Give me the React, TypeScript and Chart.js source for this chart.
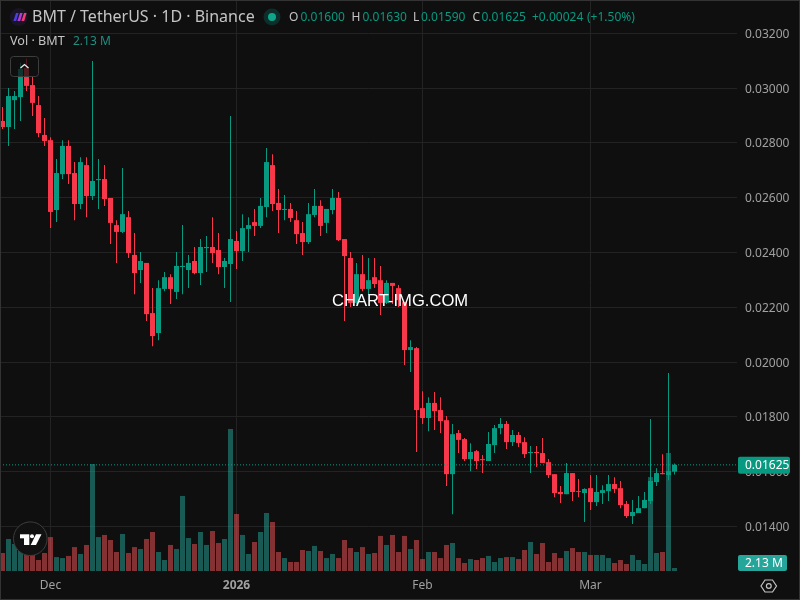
import { useEffect, useRef } from "react";
import { Chart, registerables } from "chart.js";

Chart.register(...registerables);

// prices are kept in units of 0.00001 USDT
const opens = [2880,2858,2956,2967,3073,3011,2938,2829,2810,2555,2686,2789,2690,2577,2719,2606,2664,2668,2599,2500,2475,2529,2391,2336,2362,2179,2106,2267,2310,2256,2347,2336,2369,2325,2416,2420,2409,2347,2358,2442,2405,2486,2511,2497,2566,2719,2581,2555,2559,2518,2471,2438,2537,2570,2508,2555,2599,2449,2380,2216,2321,2267,2310,2299,2216,2289,2270,2219,2044,2051,1832,1796,1851,1825,1788,1591,1741,1719,1646,1675,1646,1639,1697,1759,1774,1708,1734,1708,1668,1672,1668,1635,1591,1526,1518,1595,1529,1522,1540,1489,1522,1529,1555,1540,1482,1438,1449,1467,1493,1562,1595,1588,1600];
const highs = [2931,3000,2989,3092,3108,3042,2971,2891,2821,2741,2810,2810,2730,2748,2748,3099,2741,2719,2599,2518,2708,2551,2471,2402,2362,2270,2299,2329,2321,2402,2500,2391,2420,2449,2460,2529,2471,2380,2898,2478,2540,2529,2559,2599,2781,2759,2632,2610,2581,2551,2511,2581,2632,2591,2559,2632,2621,2449,2402,2362,2391,2380,2380,2351,2299,2289,2281,2219,2080,2055,1894,1872,1891,1872,1803,1774,1752,1723,1704,1679,1661,1745,1770,1796,1785,1752,1745,1726,1694,1694,1723,1646,1591,1548,1632,1595,1573,1540,1588,1588,1551,1588,1580,1566,1493,1497,1511,1526,1792,1613,1664,1960,1630];
const lows = [2851,2789,2851,2880,2989,2898,2821,2789,2489,2511,2668,2650,2518,2559,2529,2592,2559,2570,2431,2362,2471,2380,2248,2289,2150,2058,2080,2259,2212,2230,2248,2270,2321,2281,2329,2362,2321,2270,2219,2340,2369,2402,2460,2489,2529,2551,2471,2518,2511,2431,2391,2431,2529,2460,2471,2540,2442,2150,2201,2212,2259,2245,2270,2172,2212,2212,2201,1989,1964,1672,1774,1748,1752,1741,1548,1445,1668,1639,1602,1610,1595,1639,1668,1737,1683,1694,1690,1650,1595,1617,1632,1577,1507,1486,1518,1493,1507,1416,1460,1475,1482,1493,1522,1467,1431,1409,1449,1467,1482,1548,1591,1569,1590];
const closes = [2858,2971,2971,3070,3008,2946,2836,2807,2548,2690,2789,2686,2577,2730,2606,2661,2668,2595,2508,2475,2540,2398,2325,2369,2175,2095,2270,2310,2267,2351,2351,2362,2325,2420,2420,2398,2347,2369,2449,2405,2489,2500,2497,2570,2730,2577,2555,2559,2526,2467,2438,2540,2570,2497,2559,2599,2445,2387,2216,2321,2267,2299,2285,2216,2289,2278,2226,2044,2055,1825,1796,1851,1821,1785,1591,1737,1716,1646,1672,1639,1642,1701,1759,1774,1708,1734,1705,1664,1672,1668,1632,1588,1522,1518,1595,1526,1526,1537,1489,1526,1533,1555,1537,1478,1438,1453,1467,1497,1566,1595,1591,1602,1625];
// volume in millions of BMT
const volumes = [12.8,22.7,19.2,14.9,11.4,11.4,7.8,12.8,24.1,9.9,9.2,10.7,17,12.1,18.5,76,24.1,25.6,22,13.5,26.3,12.8,17,15.6,22.7,27.7,13.5,7.8,18.5,15.6,53.3,23.4,19.2,27.7,18.5,28.4,19.9,22.7,100.8,40.5,25.6,12.1,20.6,27.7,41.2,34.8,13.5,9.2,6.4,6.4,14.9,14.2,17.8,14.2,9.2,12.1,9.2,22,16.3,13.5,17,12.1,12.8,24.9,18.5,25.6,13.5,24.9,15.6,22,8.5,13.5,13.5,9.2,18.5,19.9,9.2,5.7,8.5,7.8,9.2,10.7,6.4,9.2,9.9,9.9,8.5,14.9,20.6,12.1,19.9,6.4,12.8,9.2,14.2,16.3,13.5,13.5,11.4,11.4,11.4,9.2,5.7,7.8,5,11.4,7.8,5,66.7,12.8,13.5,83.8,2.13];

const monthTicks = [8, 39, 70, 98];
const monthLabels = ["Dec", "2026", "Feb", "Mar"];
const lastPrice = 1625;

const GREEN = "#089981";
const RED = "#f7374a";
const GREEN_VOL = "rgba(38,166,154,0.5)";
const RED_VOL = "rgba(247,83,88,0.5)";
const BG = "#0f0f0f";
const GRID = "#232323";
const UI_FONT = '"Noto Sans", sans-serif';

const isUp = (i: number) => closes[i] >= opens[i];

// everything that is not a data mark: legend row, badges, logos, watermark
const overlay = {
  id: "overlay",
  afterDraw(chart: any) {
    const ctx = chart.ctx;
    const text = (s: string, x: number, y: number, font: string, color: string) => {
      ctx.font = font;
      ctx.fillStyle = color;
      ctx.textAlign = "left";
      ctx.textBaseline = "middle";
      ctx.fillText(s, x, y);
    };
    ctx.save();

    // watermark
    text("CHART-IMG.COM", 332, 301, "16.6px 'Liberation Sans', Arial, sans-serif", "#ffffff");

    // symbol logo
    ctx.fillStyle = "#1b1426";
    ctx.beginPath();
    ctx.arc(18.8, 17, 9, 0, Math.PI * 2);
    ctx.fill();
    ["#4a3fe0", "#b23ad6", "#f23a78"].forEach((c, k) => {
      const x0 = 13.4 + k * 4;
      ctx.fillStyle = c;
      ctx.beginPath();
      ctx.moveTo(x0, 21);
      ctx.lineTo(x0 + 2.6, 13);
      ctx.lineTo(x0 + 5.2, 13);
      ctx.lineTo(x0 + 2.8, 21);
      ctx.closePath();
      ctx.fill();
    });

    text("BMT / TetherUS · 1D · Binance", 32, 17.5, `16px ${UI_FONT}`, "#c4c4c4");

    // market status dot
    ctx.fillStyle = "#0c2f2a";
    ctx.beginPath();
    ctx.arc(272, 17, 8.5, 0, Math.PI * 2);
    ctx.fill();
    ctx.fillStyle = "#0fa58c";
    ctx.beginPath();
    ctx.arc(272, 17, 4, 0, Math.PI * 2);
    ctx.fill();

    const f12 = `12px ${UI_FONT}`;
    text("O", 289, 17.5, f12, "#c4c4c4");
    text("0.01600", 300.5, 17.5, f12, GREEN);
    text("H", 351.5, 17.5, f12, "#c4c4c4");
    text("0.01630", 362.5, 17.5, f12, GREEN);
    text("L", 413, 17.5, f12, "#c4c4c4");
    text("0.01590", 421, 17.5, f12, GREEN);
    text("C", 472.5, 17.5, f12, "#c4c4c4");
    text("0.01625", 481.5, 17.5, f12, GREEN);
    text("+0.00024", 532, 17.5, f12, GREEN);
    text("(+1.50%)", 587, 17.5, f12, GREEN);

    text("Vol · BMT", 10, 41.5, `12.6px ${UI_FONT}`, "#c4c4c4");
    text("2.13 M", 73, 41.5, f12, "#1f8f80");

    // collapse button
    ctx.fillStyle = "rgba(15,15,15,0.72)";
    ctx.strokeStyle = "#3d3d3d";
    ctx.lineWidth = 1;
    ctx.beginPath();
    ctx.roundRect(10.5, 56.5, 28, 20, 3);
    ctx.fill();
    ctx.stroke();
    ctx.strokeStyle = "#e8e8e8";
    ctx.lineWidth = 1.3;
    ctx.beginPath();
    ctx.moveTo(20.5, 68);
    ctx.lineTo(24.5, 64.5);
    ctx.lineTo(28.5, 68);
    ctx.stroke();

    // tradingview badge
    ctx.fillStyle = "#111111";
    ctx.strokeStyle = "#3d3d3d";
    ctx.lineWidth = 1;
    ctx.beginPath();
    ctx.arc(30.3, 538.7, 16.8, 0, Math.PI * 2);
    ctx.fill();
    ctx.stroke();
    ctx.fillStyle = "#ffffff";
    ctx.fillRect(20, 534.3, 9.3, 4);
    ctx.fillRect(24, 538, 5.3, 7);
    ctx.beginPath();
    ctx.arc(32, 536.3, 2, 0, Math.PI * 2);
    ctx.fill();
    ctx.beginPath();
    ctx.moveTo(36, 534.3);
    ctx.lineTo(41.5, 534.3);
    ctx.lineTo(36, 545);
    ctx.lineTo(30.7, 545);
    ctx.closePath();
    ctx.fill();

    // last price and last volume badges
    const py = chart.scales.y.getPixelForValue(lastPrice);
    ctx.fillStyle = GREEN;
    ctx.beginPath();
    ctx.roundRect(738, py - 8, 52, 17, 2);
    ctx.fill();
    text("0.01625", 745, py + 1, f12, "#ffffff");

    const vy = chart.scales.y1.getPixelForValue(0);
    ctx.fillStyle = "#26a69a";
    ctx.beginPath();
    ctx.roundRect(738, vy - 16, 49, 16, 2);
    ctx.fill();
    text("2.13 M", 745, vy - 7.5, f12, "#ffffff");

    // settings hexagon
    ctx.strokeStyle = "#c4c4c4";
    ctx.lineWidth = 1.2;
    ctx.beginPath();
    ctx.moveTo(761, 586);
    ctx.lineTo(765, 580);
    ctx.lineTo(772.5, 580);
    ctx.lineTo(776.5, 586);
    ctx.lineTo(772.5, 592);
    ctx.lineTo(765, 592);
    ctx.closePath();
    ctx.stroke();
    ctx.beginPath();
    ctx.arc(768.8, 586, 2.4, 0, Math.PI * 2);
    ctx.stroke();

    // frame
    ctx.strokeStyle = "#333333";
    ctx.lineWidth = 1;
    ctx.strokeRect(0.5, 0.5, 799, 599);
    ctx.restore();
  },
};

export default function App() {
  const canvasRef = useRef<HTMLCanvasElement>(null);

  useEffect(() => {
    if (!canvasRef.current) return;
    document.body.style.margin = "0";
    document.body.style.background = BG;

    const idx = opens.map((_, i) => i);
    const bodyColors = idx.map((i) => (isUp(i) ? GREEN : RED));

    const chart = new Chart(canvasRef.current, {
      type: "bar",
      data: {
        datasets: [
          {
            type: "line",
            data: [
              { x: -0.4167, y: lastPrice },
              { x: 122.4167, y: lastPrice },
            ],
            borderColor: GREEN,
            borderWidth: 1,
            borderDash: [1, 2],
            pointRadius: 0,
            yAxisID: "y",
            order: 0,
          },
          {
            data: idx.map((i) => ({ x: i, y: [opens[i], closes[i]] })),
            backgroundColor: bodyColors,
            barThickness: 5,
            inflateAmount: 0,
            grouped: false,
            yAxisID: "y",
            order: 1,
          },
          {
            data: idx.map((i) => ({ x: i, y: [lows[i], highs[i]] })),
            backgroundColor: bodyColors,
            barThickness: 1,
            inflateAmount: 0,
            grouped: false,
            yAxisID: "y",
            order: 2,
          },
          {
            data: idx.map((i) => ({ x: i, y: volumes[i] })),
            backgroundColor: idx.map((i) => (isUp(i) ? GREEN_VOL : RED_VOL)),
            barThickness: 5,
            inflateAmount: 0,
            grouped: false,
            yAxisID: "y1",
            order: 3,
          },
        ],
      } as any,
      options: {
        responsive: false,
        animation: false,
        devicePixelRatio: 1,
        layout: { padding: 0 },
        plugins: {
          legend: { display: false },
          tooltip: { enabled: false },
        },
        scales: {
          x: {
            type: "linear",
            offset: false,
            min: -0.4167,
            max: 122.4167,
            afterBuildTicks: (scale: any) => {
              scale.ticks = monthTicks.map((value) => ({ value }));
            },
            afterFit: (scale: any) => {
              scale.height = 29;
              scale.paddingLeft = 0;
              scale.paddingRight = 0;
            },
            grid: { color: GRID, offset: false, drawTicks: false },
            border: { display: false },
            ticks: {
              autoSkip: false,
              maxRotation: 0,
              padding: 7,
              color: "#a0a0a0",
              font: (c: any) => ({
                family: UI_FONT,
                size: 12,
                weight: c.tick && c.tick.value === 39 ? "bold" : "normal",
              }),
              callback: (v: any) => monthLabels[monthTicks.indexOf(v)] ?? "",
            },
          },
          y: {
            position: "right",
            min: 1237.6,
            max: 3321.5,
            afterFit: (scale: any) => {
              scale.width = 63;
              scale.paddingTop = 0;
              scale.paddingBottom = 0;
            },
            grid: { color: GRID, drawTicks: false },
            border: { display: false },
            ticks: {
              stepSize: 200,
              includeBounds: false,
              padding: 8,
              labelOffset: 1,
              color: "#a0a0a0",
              font: { family: UI_FONT, size: 12 },
              callback: (v: any) => (Number(v) / 100000).toFixed(5),
            },
          },
          y1: { display: false, min: 0, max: 405.4 },
        },
      } as any,
      plugins: [
        {
          id: "bg",
          beforeDraw(c: any) {
            c.ctx.save();
            c.ctx.fillStyle = BG;
            c.ctx.fillRect(0, 0, c.width, c.height);
            c.ctx.restore();
          },
        },
        overlay,
      ],
    });

    return () => {
      chart.destroy();
    };
  }, []);

  return <canvas ref={canvasRef} width={800} height={600} style={{ display: "block" }} />;
}
